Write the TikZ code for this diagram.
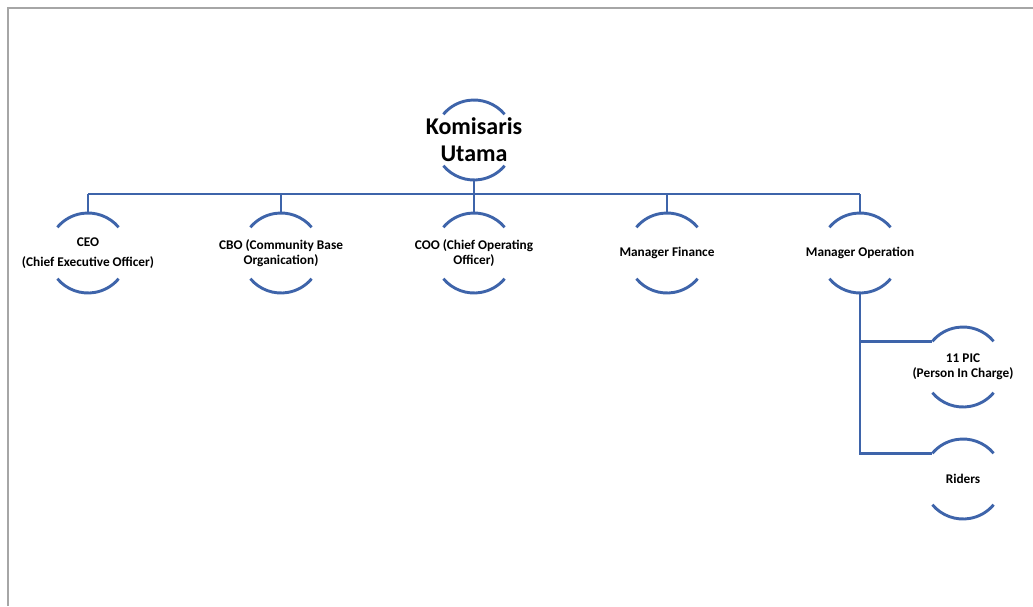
\documentclass[tikz,border=0pt]{standalone}
\usepackage{fontspec}
\setmainfont{Carlito}
\definecolor{orgblue}{RGB}{62,100,170}
\definecolor{framegray}{RGB}{166,166,166}
\tikzset{
  orgunit/.style={circle, minimum size=80pt, inner sep=0pt, outer sep=0pt, draw=none},
  unitlabel/.style={align=center, font=\bfseries\fontsize{13.3}{15.5}\selectfont, text=black, inner sep=0pt},
  biglabel/.style={align=center, font=\bfseries\fontsize{24}{27}\selectfont, text=black, inner sep=0pt},
  arcline/.style={draw=orgblue, line width=2.9pt},
  link/.style={draw=orgblue, line width=2.9pt},
  framel/.style={draw=framegray, line width=2pt}
}
\newcommand{\orgarcs}[1]{%
  \draw[arcline] (#1.40) arc[start angle=40, end angle=140, radius=40pt];
  \draw[arcline] (#1.220) arc[start angle=220, end angle=320, radius=40pt];}
\begin{document}
\begin{tikzpicture}[x=1pt,y=1pt]
\useasboundingbox (0,0) rectangle (1033,-606);
\draw[framel] (8,-606) -- (8,-8) -- (1033,-8);

\node[orgunit, label={[biglabel]center:{Komisaris\\Utama}}] (kom) at (474,-140) {};
\node[orgunit, label={[unitlabel]center:{CEO\\[4.5pt](Chief Executive Officer)}}] (ceo) at (88,-253) {};
\node[orgunit, label={[unitlabel]center:{CBO (Community Base\\Organication)}}] (cbo) at (281,-253) {};
\node[orgunit, label={[unitlabel]center:{COO (Chief Operating\\Officer)}}] (coo) at (474,-253) {};
\node[orgunit, label={[unitlabel]center:{Manager Finance}}] (mf) at (667,-253) {};
\node[orgunit, label={[unitlabel]center:{Manager Operation}}] (mo) at (860,-253) {};
\node[orgunit, label={[unitlabel]center:{11 PIC\\(Person In Charge)}}] (pic) at (963,-367) {};
\node[orgunit, label={[unitlabel]center:{Riders}}] (rid) at (963,-479) {};

\foreach \n in {kom,ceo,cbo,coo,mf,mo,pic,rid}{\orgarcs{\n}}

\coordinate (bar) at (474,-194);
\draw[link] (kom.south) -- (kom.south |- bar);
\draw[link] (ceo.north |- bar) -- (mo.north |- bar);
\foreach \n in {ceo,cbo,coo,mf,mo}{\draw[link] (\n.north) -- (\n.north |- bar);}
\draw[link] (mo.south) |- (pic.140);
\draw[link] (mo.south) |- (rid.140);
\end{tikzpicture}
\end{document}
